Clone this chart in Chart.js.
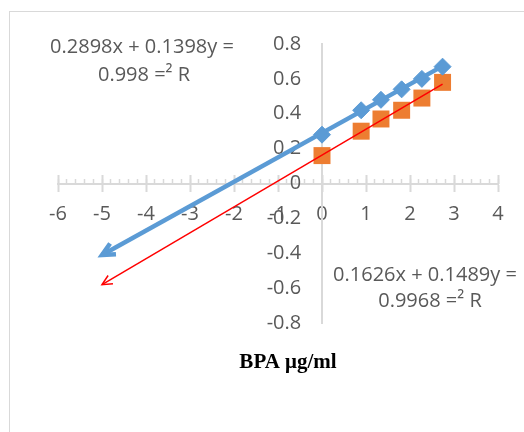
<!DOCTYPE html>
<html lang="en">
<head>
<meta charset="UTF-8">
<title>BPA calibration</title>
<script src="https://cdn.jsdelivr.net/npm/chart.js@4.4.1/dist/chart.umd.min.js"></script>
<style>
  html, body { margin: 0; padding: 0; background: #fff; }
  .wrap { position: relative; width: 524px; height: 432px; overflow: hidden; }
  .frame { position: absolute; left: 9px; top: 11px; width: 600px; height: 500px;
           border-left: 1.5px solid #d9d9d9; border-top: 1.5px solid #d9d9d9; }
  canvas { position: absolute; left: 0; top: 0; }
</style>
</head>
<body>
<div class="wrap">
  <div class="frame"></div>
  <canvas id="chart" width="524" height="432"></canvas>
</div>
<script>
// data
var concX = [0, 0.89, 1.34, 1.81, 2.27, 2.74];
var blueY = [0.28, 0.42, 0.48, 0.54, 0.60, 0.67];
var orangeY = [0.16, 0.30, 0.37, 0.42, 0.49, 0.58];

// trendline end points (backward forecast to -5)
var blueTrendX = [-5, 2.74];
var blueTrendY = [-0.41, 0.673];
var redTrendX = [-5, 2.74];
var redTrendY = [-0.58, 0.57];

var eqBlue = ['0.2898x + 0.1398y =', '0.998 =\u00b2 R'];
var eqRed = ['0.1626x + 0.1489y =', '0.9968 =\u00b2 R'];
var axisTitle = 'BPA \u03bcg/ml';

function pts(xs, ys) {
  return xs.map(function (x, i) { return { x: x, y: ys[i] }; });
}

var grey = '#595959';
var lineGrey = '#d9d9d9';
var tickFont = { family: 'Open Sans', size: 20 };

// open arrow heads at the start of the trendlines
var arrowHeads = {
  id: 'arrowHeads',
  afterDatasetsDraw: function (chart) {
    var ctx = chart.ctx;
    chart.data.datasets.forEach(function (ds, i) {
      if (!ds.arrowLen) return;
      var p = chart.getDatasetMeta(i).data;
      var a = p[0], b = p[1];
      var back = Math.atan2(b.y - a.y, b.x - a.x);
      var L = ds.arrowLen, s = 0.45;
      ctx.save();
      ctx.strokeStyle = ds.borderColor;
      ctx.lineWidth = ds.borderWidth;
      ctx.lineJoin = 'miter';
      ctx.beginPath();
      ctx.moveTo(a.x + L * Math.cos(back + s), a.y + L * Math.sin(back + s));
      ctx.lineTo(a.x, a.y);
      ctx.lineTo(a.x + L * Math.cos(back - s), a.y + L * Math.sin(back - s));
      ctx.stroke();
      ctx.restore();
    });
  }
};

// equation labels and axis title
var labels = {
  id: 'labels',
  afterDraw: function (chart) {
    var ctx = chart.ctx;
    ctx.save();
    ctx.textAlign = 'center';
    ctx.textBaseline = 'middle';
    ctx.fillStyle = grey;
    ctx.font = '20px "Open Sans"';
    ctx.fillText(eqBlue[0], 142, 47);
    ctx.fillText(eqBlue[1], 144, 75);
    ctx.fillText(eqRed[0], 425, 275);
    ctx.fillText(eqRed[1], 430, 301);
    ctx.fillStyle = '#000';
    ctx.font = 'bold 21px "Liberation Serif"';
    ctx.fillText(axisTitle, 288, 363);
    ctx.restore();
  }
};

var noLabel = function () { return ''; };

new Chart(document.getElementById('chart'), {
  type: 'scatter',
  data: {
    datasets: [
      {
        type: 'line',
        data: pts(blueTrendX, blueTrendY),
        borderColor: '#5B9BD5',
        borderWidth: 4.5,
        pointRadius: 0,
        arrowLen: 14,
        order: 0
      },
      {
        type: 'line',
        data: pts(redTrendX, redTrendY),
        borderColor: '#FF0000',
        borderWidth: 1.5,
        pointRadius: 0,
        arrowLen: 11,
        order: 0
      },
      {
        data: pts(concX, blueY),
        pointStyle: 'rectRot',
        pointRadius: 8.5,
        backgroundColor: '#5B9BD5',
        borderColor: '#5B9BD5',
        borderWidth: 1,
        order: 1
      },
      {
        data: pts(concX, orangeY),
        pointStyle: 'rect',
        pointRadius: 12,
        backgroundColor: '#ED7D31',
        borderColor: '#ED7D31',
        borderWidth: 0,
        order: 2
      }
    ]
  },
  options: {
    responsive: false,
    animation: false,
    layout: { padding: { left: 58, right: 26, top: 44, bottom: 109 } },
    plugins: { legend: { display: false }, tooltip: { enabled: false } },
    scales: {
      x: {
        type: 'linear', min: -6, max: 4,
        position: { y: 0 },
        border: { color: lineGrey, width: 2 },
        grid: { drawOnChartArea: false, tickLength: 7, tickColor: lineGrey, tickWidth: 2 },
        ticks: { stepSize: 1, color: grey, font: tickFont, padding: 12, maxRotation: 0, autoSkip: false }
      },
      xUp: {
        type: 'linear', min: -6, max: 4, axis: 'x',
        position: { y: 0 },
        border: { display: false },
        grid: { drawOnChartArea: false, tickLength: -9, tickColor: lineGrey, tickWidth: 2 },
        ticks: { stepSize: 1, callback: noLabel, autoSkip: false }
      },
      xMinor: {
        type: 'linear', min: -6, max: 4, axis: 'x',
        position: { y: 0 },
        border: { display: false },
        grid: { drawOnChartArea: false, tickLength: -5, tickColor: lineGrey, tickWidth: 1.5 },
        ticks: { stepSize: 0.2, callback: noLabel, autoSkip: false }
      },
      y: {
        type: 'linear', min: -0.8, max: 0.8,
        position: { x: 0 },
        border: { color: lineGrey, width: 2 },
        grid: { drawOnChartArea: false, drawTicks: false },
        ticks: {
          stepSize: 0.2, color: grey, font: tickFont, autoSkip: false,
          // labels of a crossing axis sit flush on the line; trailing spaces give the gap
          callback: function (v) { return (Math.round(v * 10) / 10) + '    '; }
        }
      }
    }
  },
  plugins: [arrowHeads, labels]
});
</script>
</body>
</html>
